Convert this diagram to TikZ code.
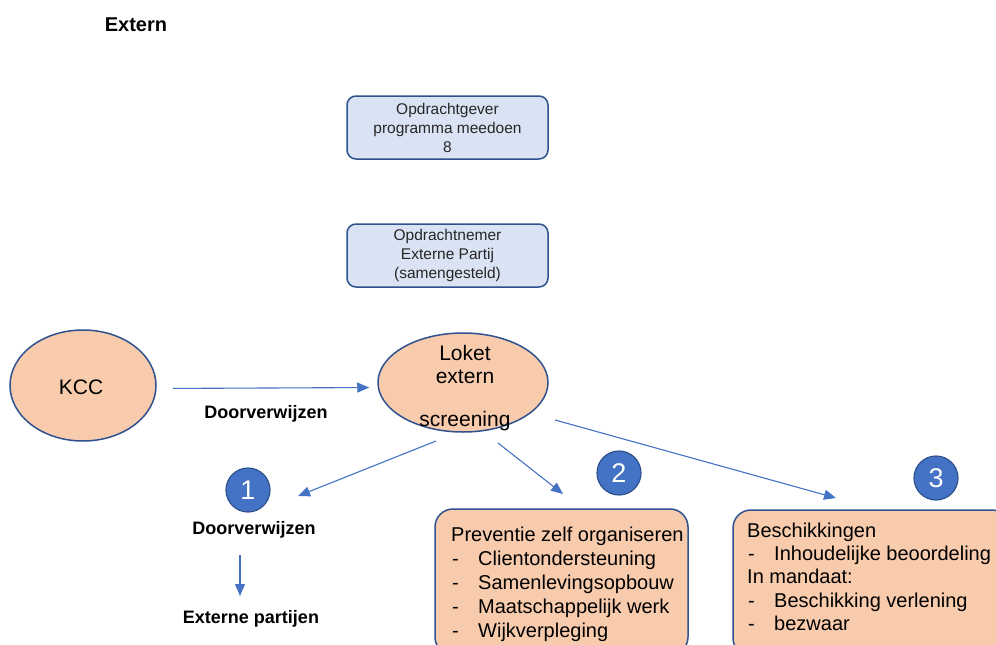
\documentclass[tikz,border=0pt]{standalone}
\usepackage{fontspec}
\setmainfont{Liberation Sans}
\usetikzlibrary{shapes.geometric,arrows.meta}
\definecolor{bluefill}{HTML}{DAE3F3}
\definecolor{darkblue}{HTML}{2F528F}
\definecolor{peach}{HTML}{F8CBAD}
\definecolor{accent}{HTML}{4472C4}
\newcommand\dashitem{\hspace*{1pt}\makebox[26pt][l]{-}}
\begin{document}
\begin{tikzpicture}[x=1pt,y=-1pt,
  topbox/.style={draw=darkblue, line width=1.5pt, fill=bluefill, rounded corners=9pt, minimum width=201pt, minimum height=63pt, inner sep=0pt, align=center, font=\fontsize{15.5}{19}\selectfont, text=black!85},
  ell/.style={ellipse, draw=darkblue, line width=1.5pt, fill=peach, inner sep=0pt},
  ell text/.style={align=center, inner sep=0pt, font=\fontsize{21}{22.5}\selectfont},
  arr/.style={draw=accent, line width=1.1pt, -{Triangle[length=12pt,width=10pt]}},
  num/.style={circle, fill=accent, draw=darkblue, line width=1.2pt, minimum size=44pt, inner sep=0pt, text=white, font=\fontsize{27}{27}\selectfont},
  lbl/.style={font=\bfseries\fontsize{18}{22}\selectfont, inner sep=0pt},
  bigbox/.style={draw=darkblue, line width=1.5pt, fill=peach, rounded corners=18pt, inner sep=0pt},
  boxtext/.style={anchor=north west, align=left, inner sep=0pt}
]
\clip (0,0) rectangle (996,645);
\fill[white] (0,0) rectangle (996,645);

\node[font=\bfseries\fontsize{20}{24}\selectfont, inner sep=0pt] (title) at (136,25) {Extern};

\node[topbox] (opg) at (447.5,127.5) {Opdrachtgever\\programma meedoen\\8};
\node[topbox] (opn) at (447.5,255.5) {Opdrachtnemer\\Externe Partij\\(samengesteld)};

\node[ell, minimum width=146pt, minimum height=111pt] (kcc) at (83,385.5) {};
\node[ell text] (kcctext) at (81,387) {KCC};
\node[ell, minimum width=170pt, minimum height=99pt] (loket) at (463,382.5) {};
\node[ell text] (lokettext) at (465,388.5) {Loket\\extern\\[21pt]screening};

\draw[arr, shorten <=16pt, shorten >=8pt] ([yshift=-3pt]kcc.east) -- ([yshift=-5pt]loket.west);
\node[lbl] (dv1) at (266,414) {Doorverwijzen};

\node[num] (n1) at (248,490) {1};
\node[num] (n2) at (619,473) {2};
\node[num] (n3) at (936,478) {3};

\coordinate (s1) at (436,441);
\coordinate (e1) at (298,496);
\coordinate (s2) at (498,443);
\coordinate (e2) at (563,494);
\coordinate (s3) at (555,420);
\coordinate (e3) at (836,498);
\draw[arr] (s1) -- (e1);
\draw[arr] (s2) -- (e2);
\draw[arr] (s3) -- (e3);

\node[lbl] (dv2) at (254,530) {Doorverwijzen};
\node[lbl] (ext) at (251,619) {Externe partijen};
\coordinate (d1) at (240,555);
\coordinate (d2) at (240,596);
\draw[arr] (d1) -- (d2);

\node[bigbox, minimum width=253pt, minimum height=146pt] (prev) at (561.5,582) {};
\node[boxtext, font=\fontsize{20}{24.2}\selectfont] (prevtext) at (451,526.5) {Preventie zelf organiseren\\
\dashitem Clientondersteuning\\
\dashitem Samenlevingsopbouw\\
\dashitem Maatschappelijk werk\\
\dashitem Wijkverpleging};

\node[bigbox, minimum width=277pt, minimum height=146pt] (besch) at (871.5,583) {};
\node[boxtext, font=\fontsize{20}{23.3}\selectfont] (beschtext) at (747,522.5) {Beschikkingen\\
\dashitem Inhoudelijke beoordeling\\
In mandaat:\\
\dashitem Beschikking verlening\\
\dashitem bezwaar};
\end{tikzpicture}
\end{document}
